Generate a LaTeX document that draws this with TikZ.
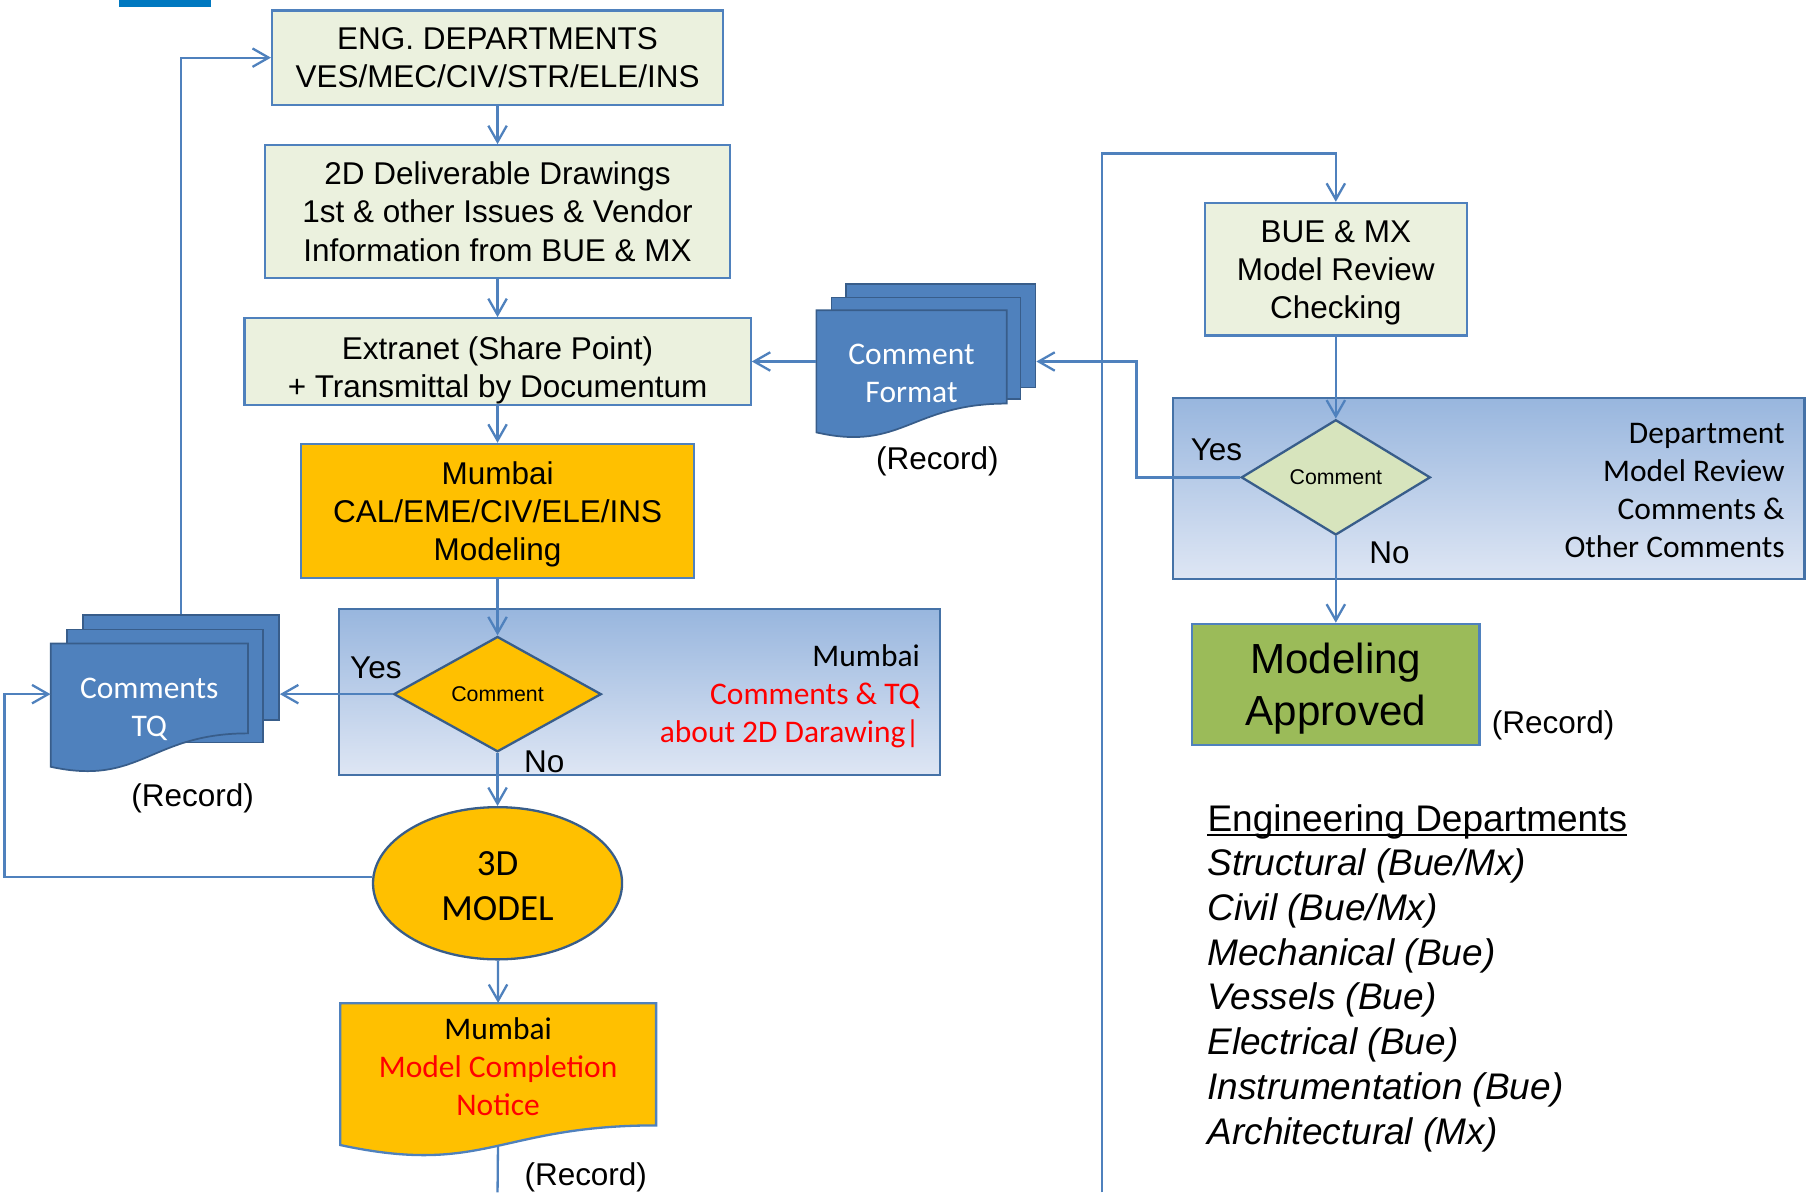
\documentclass[tikz,border=0pt]{standalone}
\usepackage{fontspec}
\setmainfont{Liberation Sans}
\newfontfamily\calibri{Carlito}
\usetikzlibrary{arrows.meta,shapes.geometric,backgrounds}

\definecolor{lineblue}{HTML}{4F81BD}
\definecolor{darkblue}{HTML}{385D8A}
\definecolor{panelblue}{HTML}{4572A7}
\definecolor{panelt}{HTML}{98B6DE}
\definecolor{panelb}{HTML}{DEE6F4}
\definecolor{paleg}{HTML}{EBF1DE}
\definecolor{amber}{HTML}{FFC000}
\definecolor{leafgreen}{HTML}{9BBB59}
\definecolor{sage}{HTML}{D7E4BD}
\definecolor{topbar}{HTML}{0078C0}

\newcommand{\boxfont}{\fontsize{27.3pt}{33pt}\selectfont}
\newcommand{\calfont}{\calibri\fontsize{27.3pt}{33pt}\selectfont}
\newcommand{\modelfont}{\calibri\fontsize{32pt}{39pt}\selectfont}
\newcommand{\bigboxfont}{\fontsize{36.5pt}{45pt}\selectfont}
\newcommand{\diafont}{\fontsize{18.5pt}{22pt}\selectfont}
\newcommand{\legendfont}{\fontsize{32.1pt}{38.9pt}\selectfont}

\begin{document}
\begin{tikzpicture}[x=1pt, y=-1pt,
  flow/.style={draw=lineblue, line width=2pt},
  arr/.style={flow, -{Straight Barb[length=14pt,width=16pt]}},
  greenbox/.style={draw=lineblue, line width=2pt, fill=paleg, align=center, font=\boxfont, inner sep=0pt},
  orangebox/.style={greenbox, fill=amber},
  panel/.style={draw=panelblue, line width=2pt, top color=panelt, bottom color=panelb},
  choice/.style={diamond, draw=darkblue, line width=2pt, inner sep=0pt, font=\diafont, minimum width=180pt, minimum height=100pt},
  sheet/.style={draw=darkblue, line width=1.5pt, fill=lineblue},
  doctext/.style={align=center, font=\calfont, text=white, inner sep=0pt},
  paneltext/.style={align=right, font=\calfont, inner sep=0pt, anchor=east},
  lbl/.style={font=\boxfont, inner sep=0pt}]
\useasboundingbox (0,0) rectangle (1568,1034);
\fill[topbar] (103,0) rectangle (183,6);

% panels behind the decisions
\draw[panel] (294,528) rectangle (815,672);
\draw[panel] (1017,345) rectangle (1565,502);

% main column
\node[greenbox, minimum width=391pt, minimum height=82pt] (eng) at (431.5,50) {ENG. DEPARTMENTS\\VES/MEC/CIV/STR/ELE/INS};
\node[greenbox, minimum width=403pt, minimum height=115pt, text depth=-2pt] (d2) at (431.5,183.5) {2D Deliverable Drawings\\1st \& other Issues \& Vendor\\Information from BUE \& MX};
\node[greenbox, minimum width=439pt, minimum height=75pt, text depth=-8pt] (ext) at (431.5,313.5) {\rule{0pt}{29pt}Extranet (Share Point)\\+ Transmittal by Documentum};
\node[orangebox, minimum width=341pt, minimum height=116pt, text depth=-2.5pt] (mod) at (431.5,443) {Mumbai\\CAL/EME/CIV/ELE/INS\\Modeling};
\node[choice, fill=amber] (dia1) at (431.5,602) {Comment};
\node[ellipse, draw=darkblue, fill=amber, line width=2pt, minimum width=216pt, minimum height=132pt, inner sep=0pt, font=\modelfont, align=center] (model) at (431.5,766) {\rule{0pt}{26pt}3D\\MODEL};

\node[paneltext] (ptxt1) at (798,604) {Mumbai\\\textcolor{red}{Comments \& TQ}\\\textcolor{red}{about 2D Darawing|}};
\node[lbl] (yes1) at (326,579) {Yes};
\node[lbl] (no1) at (472,661) {No};

% Comments TQ stack
\node[sheet, minimum width=170pt, minimum height=91pt] (tqback) at (157,579) {};
\node[sheet, minimum width=170pt, minimum height=98pt] (tqmid) at (143,595) {};
\draw[sheet] (44,558) -- (215,558) -- (215,636) .. controls (130,636) and (122,682) .. (44,665) -- cycle;
\node[doctext, minimum width=171pt, minimum height=110pt, text depth=-0.5pt] (tqfront) at (129.5,613) {Comments\\TQ};
\node[lbl] (rec1) at (167,692) {(Record)};

% Comment Format stack
\node[sheet, minimum width=164pt, minimum height=90pt] (cfback) at (816,291) {};
\node[sheet, minimum width=164pt, minimum height=88pt] (cfmid) at (803,302) {};
\draw[sheet] (708,269) -- (873,269) -- (873,350) .. controls (790,350) and (782,392) .. (708,375) -- cycle;
\node[doctext, minimum width=165pt, minimum height=111pt] (cform) at (790.5,323.5) {Comment\\Format};
\node[lbl] (rec2) at (813,400) {(Record)};

% completion notice
\draw[line width=2pt, draw=lineblue, fill=amber] (295,870) -- (569,870) -- (569,976) .. controls (432,976) and (420,1020) .. (295,993) -- cycle;
\node[doctext, text=black, minimum width=274pt, minimum height=110pt] (notice) at (432,925) {Mumbai\\\textcolor{red}{Model Completion}\\\textcolor{red}{Notice}};
\node[lbl] (rec3) at (508,1021) {(Record)};

% right column
\node[greenbox, minimum width=227pt, minimum height=115pt, text depth=-1.5pt] (bue) at (1158.5,233.5) {BUE \& MX\\Model Review\\Checking};
\node[choice, fill=sage, minimum width=164pt] (dia2) at (1158.5,414) {Comment};
\node[paneltext] (ptxt2) at (1548,425.5) {Department\\Model Review\\Comments \&\\Other Comments};
\node[lbl] (yes2) at (1055,390) {Yes};
\node[lbl] (no2) at (1205,479) {No};
\node[greenbox, fill=leafgreen, minimum width=249pt, minimum height=105pt, font=\bigboxfont, text depth=-0.5pt] (appr) at (1158.5,593.5) {Modeling\\Approved};
\node[lbl] (rec4) at (1347,629) {(Record)};

% legend
\node[font=\legendfont, anchor=base west, inner sep=0pt] (lhead) at (1047,721) {Engineering Departments};
\draw[line width=1.6pt] ([yshift=-3pt]lhead.base west) -- ([yshift=-3pt]lhead.base east);
\node[font=\legendfont\itshape, align=left, anchor=west, inner sep=0pt] (legend) at (1047,867.5) {Structural (Bue/Mx)\\Civil (Bue/Mx)\\Mechanical (Bue)\\Vessels (Bue)\\Electrical (Bue)\\Instrumentation (Bue)\\Architectural (Mx)};

% connectors
\coordinate (tqin) at (tqfront.west |- dia1.west);
\coordinate (nbot) at (431.5,1034);
\coordinate (rbot) at (956,1034);
\draw[arr] (eng) -- (d2);
\draw[arr] (d2) -- (ext);
\draw[arr] (ext) -- (mod);
\draw[arr] (mod) -- (dia1);
\draw[arr] (dia1) -- (model);
\draw[arr] (model) -- (notice.north);
\draw[arr] (dia1.west) -- (dia1.west -| tqback.east);
\draw[arr] (tqback.north) |- (eng.west);
\draw[arr] (model.177) -| ([xshift=-40pt]tqin) -- (tqin);
\draw[arr] (cform.west |- ext.east) -- (ext.east);
\draw[arr] (rbot) -- ++(0,-901) -| (bue.north);
\draw[arr] (bue) -- (dia2);
\draw[arr] (dia2.west) -- ++(-90,0) |- (cfback.east |- ext.east);
\draw[arr] (dia2) -- (appr);
\begin{scope}[on background layer]
\draw[flow] (notice.south) -- (nbot);
\end{scope}
\end{tikzpicture}
\end{document}
